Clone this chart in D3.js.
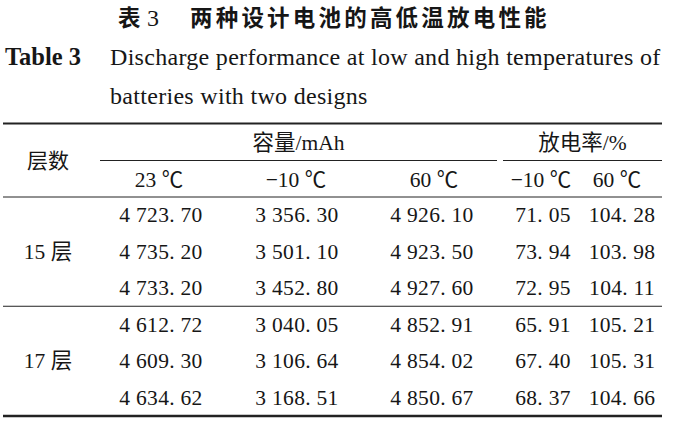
<html><head>
<meta charset="utf-8">
<title>Table 3</title>
<style>
  body, html { margin: 0; padding: 0; background: #fff; }
  svg { display: block; }
  .serif { font-family: 'Liberation Serif', 'Times New Roman', 'Noto Sans CJK SC', serif; fill: #161616; }
  .cjk { font-family: 'Noto Sans CJK SC', sans-serif; fill: #161616; }
</style>
<script src="https://d3js.org/d3.v7.min.js"></script>
</head>
<body>
<script>
// table data
const layers = ["15 层", "17 层"];
const cap23 = [4723.70, 4735.20, 4733.20, 4612.72, 4609.30, 4634.62];
const capM10 = [3356.30, 3501.10, 3452.80, 3040.05, 3106.64, 3168.51];
const cap60 = [4926.10, 4923.50, 4927.60, 4852.91, 4854.02, 4850.67];
const rateM10 = [71.05, 73.94, 72.95, 65.91, 67.40, 68.37];
const rate60 = [104.28, 103.98, 104.11, 105.21, 105.31, 104.66];
const colKeys = ["c23", "cm10", "c60", "rm10", "r60"];
const colLabels = ["23 ℃", "−10 ℃", "60 ℃", "−10 ℃", "60 ℃"];
const groupLabels = ["容量/mAh", "放电率/%"];

const width = 678, height = 423;
const svg = d3.select("body").append("svg")
  .attr("width", width).attr("height", height);

// number look of the journal: "4 723. 70"
const fmt2 = d3.format(",.2f");
function fmt(v) {
  return fmt2(v).replace(",", " ").replace(".", ". ");
}

const x = d3.scaleOrdinal().domain(colKeys).range([161, 297, 432, 543, 622]);
const xHead = d3.scaleOrdinal().domain(colKeys).range([159, 296, 434, 541, 617]);
const y = d3.scaleLinear().domain([0, 5]).range([222, 404.5]);

// captions
svg.append("text").attr("class", "cjk")
  .attr("x", 118).attr("y", 26)
  .style("font-size", "22.5px").style("font-weight", 700)
  .text("表");
svg.append("text").attr("class", "serif")
  .attr("x", 147).attr("y", 26)
  .style("font-size", "24px")
  .text("3");
svg.append("text").attr("class", "cjk")
  .attr("x", 190).attr("y", 26)
  .style("font-size", "22.5px").style("font-weight", 700)
  .style("letter-spacing", "3.2px")
  .text("两种设计电池的高低温放电性能");

svg.append("text").attr("class", "serif")
  .attr("x", 5).attr("y", 65)
  .style("font-size", "24.5px").style("font-weight", 700)
  .text("Table 3");
svg.append("text").attr("class", "serif")
  .attr("x", 110).attr("y", 65)
  .style("font-size", "24px").style("letter-spacing", "0.3px")
  .text("Discharge performance at low and high temperatures of");
svg.append("text").attr("class", "serif")
  .attr("x", 110).attr("y", 104)
  .style("font-size", "24px").style("letter-spacing", "0.3px")
  .text("batteries with two designs");

// rules
function rule(x1, x2, yy, w) {
  svg.append("line")
    .attr("x1", x1).attr("x2", x2).attr("y1", yy).attr("y2", yy)
    .attr("stroke", "#222").attr("stroke-width", w);
}
rule(3, 662, 123.5, 2.2);
rule(100, 497, 160.5, 1);
rule(503, 662, 160.5, 1);
rule(3, 662, 197, 1);
rule(3, 662, (y(2) + y(3)) / 2 - 7, 1);
rule(3, 662, 416, 2.6);

// header
svg.append("text").attr("class", "cjk")
  .attr("x", 48).attr("y", 168).attr("text-anchor", "middle")
  .style("font-size", "21px")
  .text("层数");
svg.selectAll(".group").data(groupLabels).join("text")
  .attr("class", "group serif")
  .attr("x", (d, i) => i === 0 ? (100 + 497) / 2 : (503 + 662) / 2)
  .attr("y", 150).attr("text-anchor", "middle")
  .style("font-size", "21.5px")
  .text(d => d);
svg.selectAll(".colhead").data(colKeys).join("text")
  .attr("class", "colhead serif")
  .attr("x", d => xHead(d)).attr("y", 187).attr("text-anchor", "middle")
  .style("font-size", "21.5px")
  .text((d, i) => colLabels[i]);

// layer labels
svg.selectAll(".layer").data(layers).join("text")
  .attr("class", "layer serif")
  .attr("x", 48).attr("text-anchor", "middle")
  .attr("y", (d, i) => y(i * 3 + 1))
  .style("font-size", "21.5px")
  .text(d => d);

// body cells
const cols = [cap23, capM10, cap60, rateM10, rate60];
colKeys.forEach((k, ci) => {
  svg.selectAll(".cell-" + k).data(cols[ci]).join("text")
    .attr("class", "cell-" + k + " serif")
    .attr("x", x(k)).attr("y", (d, i) => y(i))
    .attr("text-anchor", "middle")
    .style("font-size", "21.5px").style("letter-spacing", "0.3px")
    .text(d => fmt(d));
});
</script>
</body></html>
